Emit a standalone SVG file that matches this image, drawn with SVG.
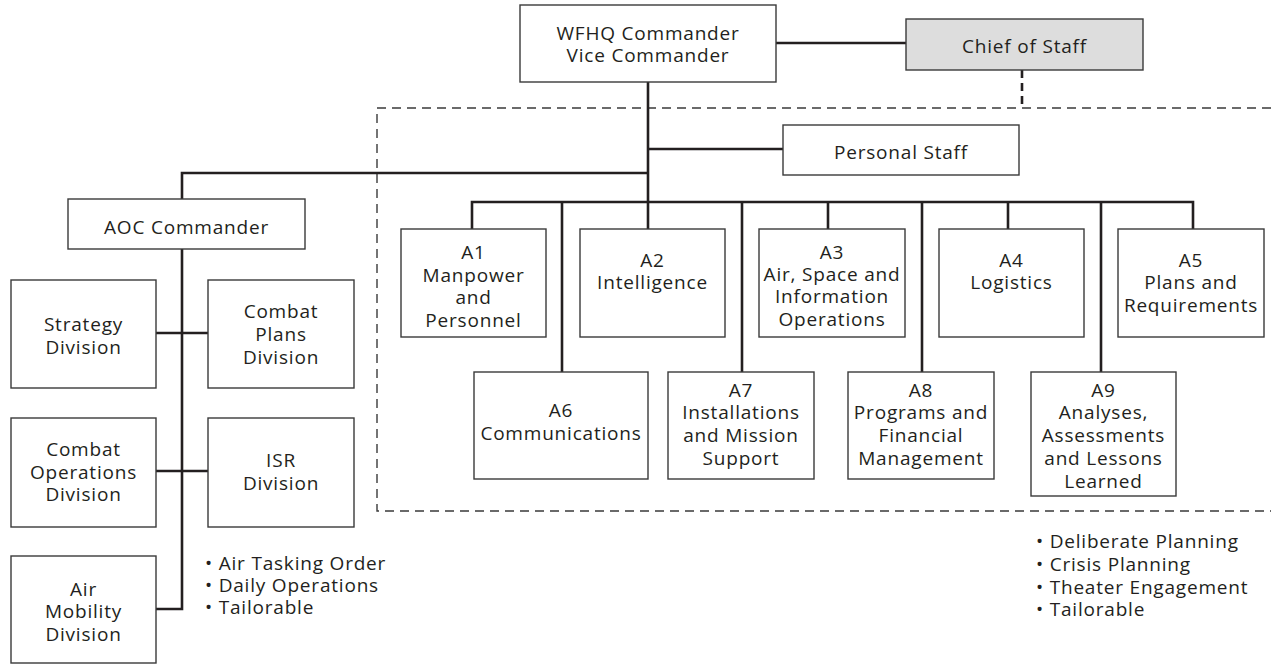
<svg xmlns="http://www.w3.org/2000/svg" width="1271" height="665" viewBox="0 0 1271 665">
<style>
.box{fill:#fff;stroke:#3a3a3a;stroke-width:1.4}
.gray{fill:#dddddd}
.t{font-family:"Open Sans","Noto Sans","DejaVu Sans",sans-serif;font-size:19px;letter-spacing:0.8px;fill:#231f20;text-anchor:middle}
.b{font-family:"Open Sans","Noto Sans","DejaVu Sans",sans-serif;font-size:19px;letter-spacing:0.8px;fill:#231f20}
.c{fill:none;stroke:#231f20;stroke-width:2.6}
.d{fill:none;stroke:#3a3a3a;stroke-width:1.4;stroke-dasharray:9,6}
.dd{fill:none;stroke:#231f20;stroke-width:2.6;stroke-dasharray:8,5}
</style>
<rect width="1271" height="665" fill="#fff"/>
<g id="connectors">
<path class="d" d="M1271,108 H377 V511 H1271"/>
<path class="dd" d="M1022,70 V108"/>
<path class="c" d="M776,43 H906"/>
<path class="c" d="M648,82 V229"/>
<path class="c" d="M648,149 H783"/>
<path class="c" d="M648,173 H182 V199"/>
<path class="c" d="M182,249 V609 H156"/>
<path class="c" d="M156,333 H208"/>
<path class="c" d="M156,471 H208"/>
<path class="c" d="M472,229 V202 H1193 V229"/>
<path class="c" d="M562,202 V372"/>
<path class="c" d="M742,202 V372"/>
<path class="c" d="M828,202 V229"/>
<path class="c" d="M922,202 V372"/>
<path class="c" d="M1008,202 V229"/>
<path class="c" d="M1101,202 V372"/>
</g>
<g id="wfhq"><rect class="box" x="520" y="5" width="256" height="77"/><text class="t"><tspan x="648" y="40">WFHQ Commander</tspan><tspan x="648" y="62">Vice Commander</tspan></text></g>
<g id="chief"><rect class="box gray" x="906" y="19" width="237" height="51"/><text class="t" x="1024.5" y="53">Chief of Staff</text></g>
<g id="personal"><rect class="box" x="783" y="125" width="236" height="50"/><text class="t" x="901" y="159">Personal Staff</text></g>
<g id="aoc"><rect class="box" x="68" y="199" width="237" height="50"/><text class="t" x="186.5" y="234">AOC Commander</text></g>
<g id="strategy"><rect class="box" x="11" y="280" width="145" height="108"/><text class="t"><tspan x="83.5" y="331">Strategy</tspan><tspan x="83.5" y="354">Division</tspan></text></g>
<g id="combatplans"><rect class="box" x="208" y="280" width="146" height="108"/><text class="t"><tspan x="281" y="318">Combat</tspan><tspan x="281" y="341">Plans</tspan><tspan x="281" y="364">Division</tspan></text></g>
<g id="combatops"><rect class="box" x="11" y="418" width="145" height="109"/><text class="t"><tspan x="83.5" y="456">Combat</tspan><tspan x="83.5" y="479">Operations</tspan><tspan x="83.5" y="501">Division</tspan></text></g>
<g id="isr"><rect class="box" x="208" y="418" width="146" height="109"/><text class="t"><tspan x="281" y="467">ISR</tspan><tspan x="281" y="490">Division</tspan></text></g>
<g id="airmobility"><rect class="box" x="11" y="556" width="145" height="107"/><text class="t"><tspan x="83.5" y="596">Air</tspan><tspan x="83.5" y="618">Mobility</tspan><tspan x="83.5" y="641">Division</tspan></text></g>
<g id="aoc-notes"><text class="b"><tspan x="205" y="570">• Air Tasking Order</tspan><tspan x="205" y="592">• Daily Operations</tspan><tspan x="205" y="614">• Tailorable</tspan></text></g>
<g id="a1"><rect class="box" x="401" y="229" width="145" height="108"/><text class="t"><tspan x="473.5" y="259">A1</tspan><tspan x="473.5" y="282">Manpower</tspan><tspan x="473.5" y="304">and</tspan><tspan x="473.5" y="327">Personnel</tspan></text></g>
<g id="a2"><rect class="box" x="580" y="229" width="145" height="108"/><text class="t"><tspan x="652.5" y="267">A2</tspan><tspan x="652.5" y="289">Intelligence</tspan></text></g>
<g id="a3"><rect class="box" x="759" y="229" width="146" height="108"/><text class="t"><tspan x="832" y="259">A3</tspan><tspan x="832" y="281">Air, Space and</tspan><tspan x="832" y="303">Information</tspan><tspan x="832" y="326">Operations</tspan></text></g>
<g id="a4"><rect class="box" x="939" y="229" width="145" height="108"/><text class="t"><tspan x="1011.5" y="267">A4</tspan><tspan x="1011.5" y="289">Logistics</tspan></text></g>
<g id="a5"><rect class="box" x="1118" y="229" width="146" height="108"/><text class="t"><tspan x="1191" y="267">A5</tspan><tspan x="1191" y="289">Plans and</tspan><tspan x="1191" y="312">Requirements</tspan></text></g>
<g id="a6"><rect class="box" x="474" y="372" width="174" height="107"/><text class="t"><tspan x="561" y="417">A6</tspan><tspan x="561" y="440">Communications</tspan></text></g>
<g id="a7"><rect class="box" x="668" y="372" width="146" height="107"/><text class="t"><tspan x="741" y="397">A7</tspan><tspan x="741" y="419">Installations</tspan><tspan x="741" y="442">and Mission</tspan><tspan x="741" y="465">Support</tspan></text></g>
<g id="a8"><rect class="box" x="848" y="372" width="146" height="107"/><text class="t"><tspan x="921" y="397">A8</tspan><tspan x="921" y="419">Programs and</tspan><tspan x="921" y="442">Financial</tspan><tspan x="921" y="465">Management</tspan></text></g>
<g id="a9"><rect class="box" x="1031" y="372" width="145" height="124"/><text class="t"><tspan x="1103.5" y="397">A9</tspan><tspan x="1103.5" y="419">Analyses,</tspan><tspan x="1103.5" y="442">Assessments</tspan><tspan x="1103.5" y="465">and Lessons</tspan><tspan x="1103.5" y="488">Learned</tspan></text></g>
<g id="wfhq-notes"><text class="b"><tspan x="1036" y="548">• Deliberate Planning</tspan><tspan x="1036" y="571">• Crisis Planning</tspan><tspan x="1036" y="594">• Theater Engagement</tspan><tspan x="1036" y="616">• Tailorable</tspan></text></g>
</svg>
